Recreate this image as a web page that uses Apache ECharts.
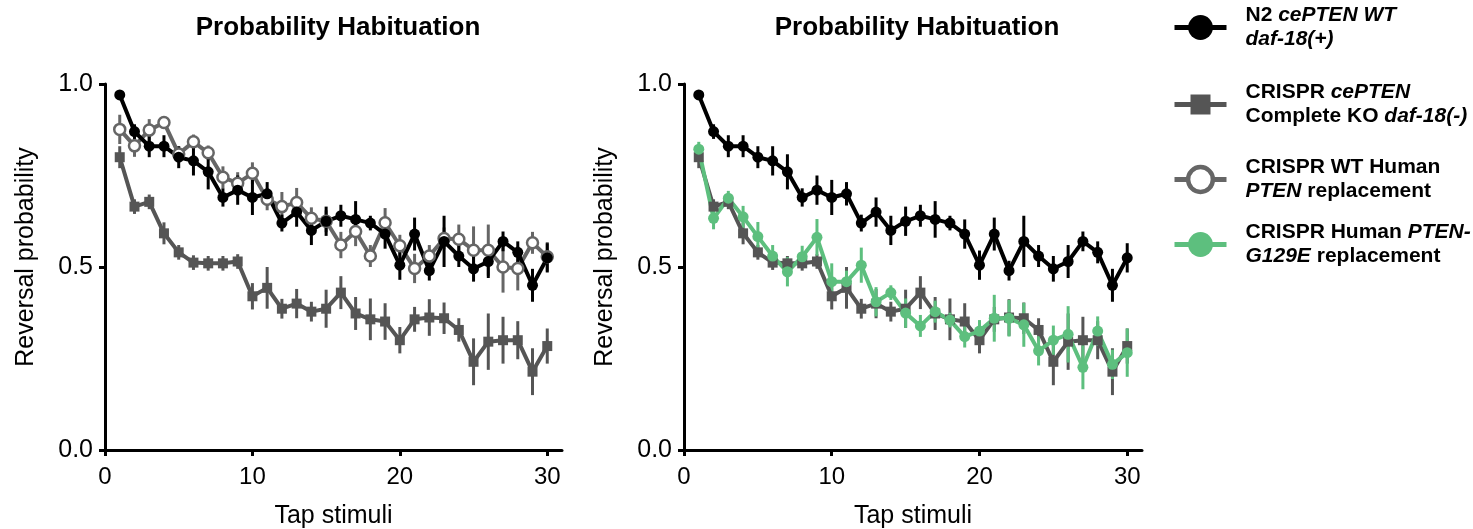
<!DOCTYPE html>
<html>
<head>
<meta charset="utf-8">
<script src="https://cdn.jsdelivr.net/npm/echarts@6/dist/echarts.min.js"></script>
<style>
  html, body { margin: 0; padding: 0; background: #fff; }
  #main { width: 1473px; height: 529px; }
</style>
</head>
<body>
<div id="main"></div>
<script>
// tap numbers and tick labels
var taps = [1,2,3,4,5,6,7,8,9,10,11,12,13,14,15,16,17,18,19,20,21,22,23,24,25,26,27,28,29,30];
var xTicks = [0, 10, 20, 30];
var yTicks = [0, 0.5, 1];

// N2 cePTEN WT daf-18(+)
var n2Mean = [0.97,0.87,0.83,0.83,0.80,0.79,0.76,0.69,0.71,0.69,0.70,0.62,0.65,0.60,0.625,0.64,0.63,0.62,0.59,0.505,0.59,0.49,0.57,0.53,0.495,0.515,0.57,0.54,0.45,0.525];
var n2Err  = [0.01,0.02,0.03,0.03,0.03,0.04,0.048,0.025,0.04,0.048,0.032,0.023,0.04,0.04,0.04,0.03,0.05,0.02,0.04,0.04,0.045,0.027,0.07,0.03,0.035,0.045,0.027,0.03,0.045,0.04];

// CRISPR cePTEN complete KO daf-18(-)
var koMean = [0.80,0.665,0.678,0.592,0.54,0.512,0.51,0.51,0.515,0.42,0.443,0.386,0.40,0.378,0.386,0.43,0.373,0.357,0.351,0.30,0.357,0.362,0.36,0.328,0.241,0.296,0.30,0.30,0.214,0.284];
var koErr  = [0.03,0.02,0.02,0.03,0.02,0.02,0.02,0.02,0.02,0.036,0.057,0.027,0.04,0.027,0.052,0.045,0.045,0.057,0.05,0.036,0.034,0.05,0.043,0.032,0.064,0.077,0.064,0.052,0.064,0.048];

// CRISPR WT human PTEN replacement
var wtMean = [0.876,0.831,0.874,0.895,0.809,0.842,0.812,0.745,0.729,0.756,0.685,0.665,0.676,0.633,0.625,0.56,0.597,0.53,0.621,0.558,0.496,0.53,0.578,0.576,0.546,0.546,0.50,0.496,0.566,0.528];
var wtErr  = [0.04,0.03,0.03,0.01,0.02,0.02,0.02,0.03,0.03,0.03,0.03,0.04,0.04,0.03,0.03,0.036,0.04,0.03,0.04,0.03,0.04,0.03,0.03,0.04,0.065,0.07,0.07,0.06,0.03,0.04];

// CRISPR human PTEN-G129E replacement
var g129Mean = [0.822,0.633,0.688,0.637,0.583,0.53,0.487,0.528,0.581,0.46,0.46,0.505,0.405,0.43,0.374,0.339,0.378,0.355,0.31,0.325,0.36,0.36,0.342,0.271,0.30,0.316,0.226,0.325,0.234,0.266];
var g129Err  = [0.02,0.03,0.02,0.03,0.04,0.03,0.04,0.03,0.05,0.05,0.03,0.048,0.04,0.02,0.04,0.03,0.03,0.02,0.03,0.03,0.064,0.05,0.06,0.04,0.04,0.077,0.06,0.04,0.04,0.066];

var names = [
  'N2 cePTEN WT daf-18(+)',
  'CRISPR cePTEN Complete KO daf-18(-)',
  'CRISPR WT Human PTEN replacement',
  'CRISPR Human PTEN-G129E replacement'
];
var legendText = [
  '{r|N2 }{i|cePTEN WT}\n{i|daf-18(+)}',
  '{r|CRISPR }{i|cePTEN}\n{r|Complete KO }{i|daf-18(-)}',
  '{r|CRISPR WT Human}\n{i|PTEN}{r| replacement}',
  '{r|CRISPR Human }{i|PTEN-}\n{i|G129E}{r| replacement}'
];

var FONT = '"Liberation Sans", Arial, Helvetica, sans-serif';
var GREEN = '#5dbf7e';

function pts(mean) {
  return taps.map(function (t, i) { return [t, mean[i]]; });
}
function bars(mean, err) {
  return taps.map(function (t, i) { return [t, mean[i] - err[i], mean[i] + err[i]]; });
}
function errRender(params, api) {
  var p1 = api.coord([api.value(0), api.value(1)]);
  var p2 = api.coord([api.value(0), api.value(2)]);
  return {
    type: 'line',
    shape: { x1: p1[0], y1: p1[1], x2: p2[0], y2: p2[1] },
    style: { stroke: api.visual('color'), lineWidth: 3 }
  };
}
function errSeries(g, mean, err, color) {
  return {
    type: 'custom', xAxisIndex: g, yAxisIndex: g, renderItem: errRender,
    itemStyle: { color: color }, encode: { x: 0, y: [1, 2] },
    data: bars(mean, err), silent: true
  };
}
function lineSeries(g, name, mean, color, symbol, size, open) {
  return {
    type: 'line', name: name, xAxisIndex: g, yAxisIndex: g,
    data: pts(mean), symbol: symbol, symbolSize: size,
    lineStyle: { color: color, width: 4 },
    itemStyle: open ? { color: '#fff', borderColor: color, borderWidth: 2.5 } : { color: color },
    silent: true
  };
}

function xAx(g) {
  return {
    type: 'value', gridIndex: g, min: 0, max: 31, interval: 10,
    name: 'Tap stimuli', nameLocation: 'middle', nameGap: 54,
    nameTextStyle: { fontSize: 25, color: '#000', fontFamily: FONT },
    axisLine: { lineStyle: { color: '#000', width: 3 } },
    axisTick: { customValues: xTicks, length: 6, lineStyle: { width: 3, color: '#000' } },
    axisLabel: { customValues: xTicks, fontSize: 24, color: '#000', fontFamily: FONT, margin: 15 },
    splitLine: { show: false }
  };
}
function yAx(g) {
  return {
    type: 'value', gridIndex: g, min: 0, max: 1, interval: 0.5,
    name: 'Reversal probability', nameLocation: 'middle', nameGap: 66,
    nameTextStyle: { fontSize: 25, color: '#000', fontFamily: FONT, padding: [0, 0, 0, 20] },
    axisLine: { show: true, lineStyle: { color: '#000', width: 3 } },
    axisTick: { show: true, customValues: yTicks, length: 6, lineStyle: { width: 3, color: '#000' } },
    axisLabel: { customValues: yTicks, fontSize: 25, color: '#000', fontFamily: FONT, margin: 12,
      formatter: function (v) { return v.toFixed(1); } },
    splitLine: { show: false }
  };
}

var legendTops = [0, 77, 152, 217];
var legendIconH = [31, 25, 31, 31];
var legendColors = ['#000', '#555', '#666', GREEN];
var legends = names.map(function (n, i) {
  return {
    data: [n], left: 1167, top: legendTops[i], orient: 'vertical',
    itemWidth: 52, itemHeight: legendIconH[i], selectedMode: false,
    lineStyle: { width: 5, color: legendColors[i] },
    itemStyle: i === 2 ? { color: '#fff', borderColor: '#666', borderWidth: 4.5 } : { color: legendColors[i], borderWidth: 0 },
    formatter: function () { return legendText[i]; },
    textStyle: {
      padding: [0, 0, 0, 14],
      rich: {
        r: { fontSize: 21, fontWeight: 'bold', color: '#000', fontFamily: FONT, lineHeight: 24 },
        i: { fontSize: 21, fontWeight: 'bold', fontStyle: 'italic', color: '#000', fontFamily: FONT, lineHeight: 24 }
      }
    }
  };
});

var myChart = echarts.init(document.getElementById('main'));
var option = {
  animation: false,
  backgroundColor: '#fff',
  title: [
    { text: 'Probability Habituation', left: 333, top: 10, textAlign: 'center',
      textStyle: { fontSize: 26, fontWeight: 'bold', color: '#000', fontFamily: FONT } },
    { text: 'Probability Habituation', left: 912, top: 10, textAlign: 'center',
      textStyle: { fontSize: 26, fontWeight: 'bold', color: '#000', fontFamily: FONT } }
  ],
  legend: legends,
  grid: [
    { left: 105, top: 84, width: 457, height: 366, outerBoundsMode: 'none' },
    { left: 684, top: 84, width: 458, height: 366, outerBoundsMode: 'none' }
  ],
  xAxis: [xAx(0), xAx(1)],
  yAxis: [yAx(0), yAx(1)],
  series: [
    errSeries(0, koMean, koErr, '#555'),
    lineSeries(0, names[1], koMean, '#555', 'rect', 10, false),
    errSeries(0, wtMean, wtErr, '#666'),
    lineSeries(0, names[2], wtMean, '#666', 'circle', 11, true),
    errSeries(0, n2Mean, n2Err, '#000'),
    lineSeries(0, names[0], n2Mean, '#000', 'circle', 11, false),

    errSeries(1, koMean, koErr, '#555'),
    lineSeries(1, names[1], koMean, '#555', 'rect', 10, false),
    errSeries(1, g129Mean, g129Err, GREEN),
    lineSeries(1, names[3], g129Mean, GREEN, 'circle', 11, false),
    errSeries(1, n2Mean, n2Err, '#000'),
    lineSeries(1, names[0], n2Mean, '#000', 'circle', 11, false)
  ]
};
myChart.setOption(option);
</script>
</body>
</html>
